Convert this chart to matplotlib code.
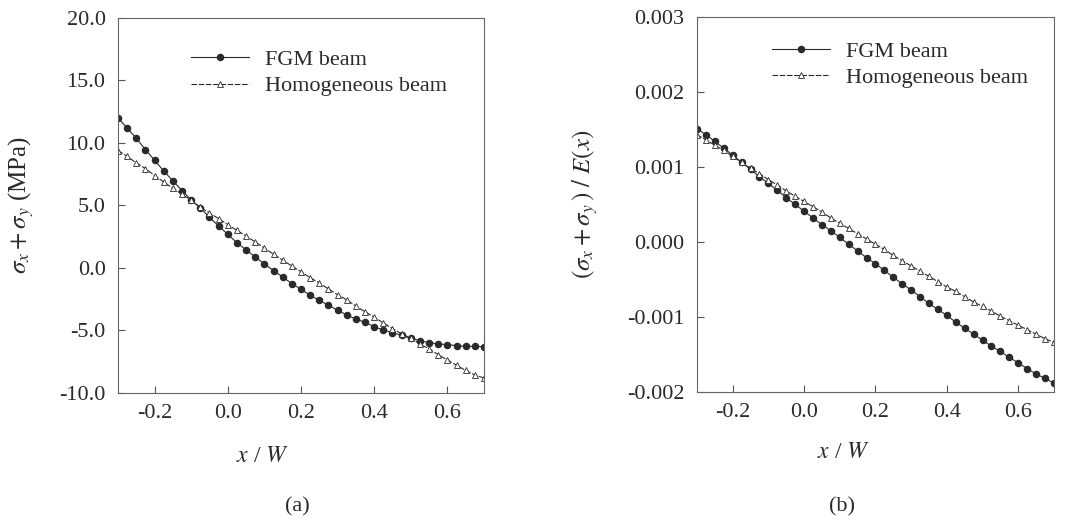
import numpy as np
import matplotlib
matplotlib.use('Agg')
import matplotlib.pyplot as plt
from matplotlib.ticker import FormatStrFormatter

plt.rcParams['font.family'] = ['Liberation Serif', 'DejaVu Serif']
plt.rcParams['mathtext.fontset'] = 'stix'
plt.rcParams['axes.unicode_minus'] = False

# normalised position along the beam, step 0.025
xw = [-0.3, -0.275, -0.25, -0.225, -0.2, -0.175, -0.15, -0.125, -0.1, -0.075,
      -0.05, -0.025, 0.0, 0.025, 0.05, 0.075, 0.1, 0.125, 0.15, 0.175,
      0.2, 0.225, 0.25, 0.275, 0.3, 0.325, 0.35, 0.375, 0.4, 0.425,
      0.45, 0.475, 0.5, 0.525, 0.55, 0.575, 0.6, 0.625, 0.65, 0.675, 0.7]

# (a) sigma_x + sigma_y in MPa
stress_fgm = [12.0, 11.2, 10.37, 9.47, 8.61, 7.76, 6.96, 6.19, 5.44, 4.8,
              4.05, 3.36, 2.69, 2.02, 1.44, 0.88, 0.32, -0.21, -0.72, -1.25,
              -1.7, -2.18, -2.59, -2.98, -3.38, -3.76, -4.08, -4.35, -4.7, -4.96,
              -5.17, -5.39, -5.62, -5.82, -5.97, -6.08, -6.13, -6.21, -6.27, -6.27, -6.3]
stress_hom = [9.39, 8.93, 8.4, 7.95, 7.39, 6.88, 6.37, 5.9, 5.41, 4.85,
              4.4, 3.95, 3.47, 3.01, 2.56, 2.08, 1.6, 1.1, 0.62, 0.16,
              -0.3, -0.78, -1.2, -1.68, -2.14, -2.55, -3.05, -3.5, -3.93, -4.4,
              -4.85, -5.27, -5.62, -6.08, -6.48, -6.93, -7.36, -7.78, -8.2, -8.56, -8.8]

# (b) (sigma_x + sigma_y) / E(x)
strain_fgm = [0.00151, 0.00143, 0.00134, 0.00125, 0.00116, 0.00106, 0.00097, 0.00087, 0.00078, 0.00069,
              0.00059, 0.00050, 0.00041, 0.00032, 0.00023, 0.00015, 0.00006, -0.00003, -0.00012, -0.00021,
              -0.00029, -0.00038, -0.00047, -0.00056, -0.00064, -0.00073, -0.00082, -0.0009, -0.00098, -0.00107,
              -0.00115, -0.00123, -0.00131, -0.00139, -0.00146, -0.00154, -0.00161, -0.00169, -0.00176, -0.00182, -0.00188]
strain_hom = [0.00143, 0.00136, 0.00129, 0.00122, 0.00114, 0.00106, 0.00098, 0.00091, 0.00083, 0.00076,
              0.00068, 0.00061, 0.00054, 0.00047, 0.0004, 0.00032, 0.00025, 0.00018, 0.00011, 0.00004,
              -0.00003, -0.0001, -0.00018, -0.00025, -0.00032, -0.00039, -0.00046, -0.00053, -0.0006, -0.00066,
              -0.00073, -0.0008, -0.00086, -0.00092, -0.00099, -0.00105, -0.00111, -0.00117, -0.00123, -0.00129, -0.00134]

ink = '#2a2a2a'
fs = 16

fig = plt.figure(figsize=(10.66, 5.26), dpi=100)
ax1 = fig.add_axes([0.1107, 0.2529, 0.3433, 0.713])
ax2 = fig.add_axes([0.6538, 0.2548, 0.3349, 0.713])


def draw(ax, yf, yh):
    ax.plot(xw, yf, '-', color=ink, lw=0.8, marker='o', ms=4.4,
            mfc=ink, mec=ink, label='FGM beam')
    ax.plot(xw, yh, '--', color=ink, lw=0.8, marker='^', ms=5,
            mfc='white', mec=ink, mew=0.6, dashes=(5, 1.5),
            label='Homogeneous beam')
    ax.set_xlim(-0.3, 0.7)
    ax.set_xticks([-0.2, 0.0, 0.2, 0.4, 0.6])
    ax.xaxis.set_major_formatter(FormatStrFormatter('%.1f'))
    ax.tick_params(direction='in', length=5, width=0.8, color='#555555',
                   labelsize=fs, labelcolor=ink, top=False, right=False)
    ax.tick_params(axis='x', pad=8)
    ax.tick_params(axis='y', pad=9)
    for s in ax.spines.values():
        s.set_color('#666666')
        s.set_linewidth(0.8)


draw(ax1, stress_fgm, stress_hom)
ax1.set_ylim(-10, 20)
ax1.set_yticks([-10, -5, 0, 5, 10, 15, 20])
ax1.yaxis.set_major_formatter(FormatStrFormatter('%.1f'))
ax1.set_ylabel(r'$\sigma_x + \sigma_y$ (MPa)', fontsize=18, color=ink)
ax1.yaxis.set_label_coords(-0.225, 0.5)
ax1.legend(loc='upper left', bbox_to_anchor=(0.17, 0.945), frameon=False,
           fontsize=fs, numpoints=1, handlelength=2.6, handletextpad=0.7,
           labelspacing=0.25, borderpad=0, labelcolor=ink)

draw(ax2, strain_fgm, strain_hom)
ax2.set_ylim(-0.002, 0.003)
ax2.set_yticks([-0.002, -0.001, 0.0, 0.001, 0.002, 0.003])
ax2.yaxis.set_major_formatter(FormatStrFormatter('%.3f'))
ax2.set_ylabel(r'$(\sigma_x + \sigma_y\,)\ /\ E(x)$', fontsize=18, color=ink)
ax2.yaxis.set_label_coords(-0.272, 0.5)
ax2.legend(loc='upper left', bbox_to_anchor=(0.18, 0.965), frameon=False,
           fontsize=fs, numpoints=1, handlelength=2.6, handletextpad=0.7,
           labelspacing=0.25, borderpad=0, labelcolor=ink)

fig.text(262 / 1066, 1 - 456 / 526, r'$x$ / $W$', fontsize=fs + 1, color=ink,
         ha='center', va='center')
fig.text(843 / 1066, 1 - 452 / 526, r'$x$ / $W$', fontsize=fs + 1, color=ink,
         ha='center', va='center')
fig.text(297 / 1066, 1 - 507 / 526, '(a)', fontsize=fs, color=ink,
         ha='center', va='center')
fig.text(842 / 1066, 1 - 507 / 526, '(b)', fontsize=fs, color=ink,
         ha='center', va='center')

fig.savefig('out.png', dpi=100)
